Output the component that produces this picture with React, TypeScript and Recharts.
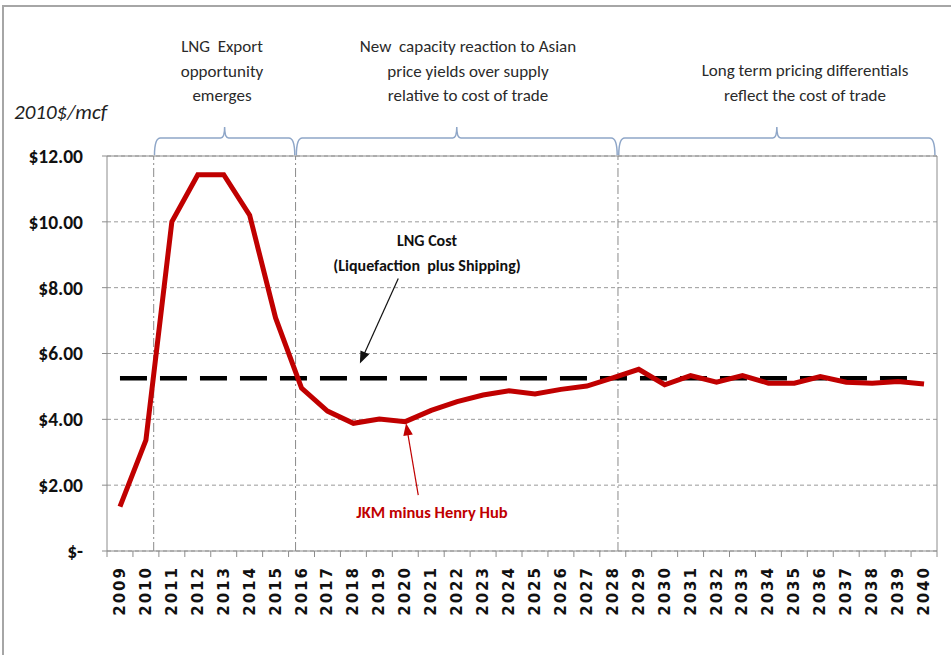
import React from 'react';
import { CartesianGrid, Line, LineChart, ReferenceArea, ReferenceLine, XAxis, YAxis } from 'recharts';

const YEARS = [
  2009, 2010, 2011, 2012, 2013, 2014, 2015, 2016, 2017, 2018, 2019, 2020, 2021, 2022, 2023, 2024,
  2025, 2026, 2027, 2028, 2029, 2030, 2031, 2032, 2033, 2034, 2035, 2036, 2037, 2038, 2039, 2040,
];
// JKM minus Henry Hub spread, 2010$/mcf
const JKM_MINUS_HH = [
  1.35, 3.37, 10.0, 11.43, 11.43, 10.2, 7.08, 4.95, 4.25, 3.88, 4.01, 3.93, 4.27, 4.54, 4.74, 4.87,
  4.77, 4.91, 5.01, 5.26, 5.52, 5.05, 5.33, 5.13, 5.33, 5.1, 5.1, 5.3, 5.13, 5.1, 5.15, 5.07,
];
const LNG_COST = 5.25;
const Y_TICKS = [0, 2, 4, 6, 8, 10, 12];
const PERIOD_BREAKS = [2010.3, 2015.77, 2028.2, 2040.45];

const data = YEARS.map((year, i) => ({ year, spread: JKM_MINUS_HH[i] }));

const FONT = "Carlito, 'Liberation Sans Narrow', Lato, sans-serif";
const GRAY = '#8c8c8c';
const RED = '#c00000';
const BRACE = '#8ea6c8';

// year label plus tick marks on the category boundaries either side
const YearTick = (props: any) => {
  const { x, y, payload, index, width, visibleTicksCount } = props;
  const half = width / visibleTicksCount / 2;
  const axisY = y - 15;
  const last = index === visibleTicksCount - 1;
  return (
    <g>
      <line x1={x - half} x2={x - half} y1={axisY} y2={axisY + 6} stroke={GRAY} />
      {last && <line x1={x + half} x2={x + half} y1={axisY} y2={axisY + 6} stroke={GRAY} />}
      <text
        x={x}
        y={y}
        transform={`rotate(-90 ${x} ${y})`}
        textAnchor="end"
        dominantBaseline="central"
        fontFamily="'DejaVu Sans', sans-serif"
        fontWeight="bold"
        fontSize={15}
        letterSpacing={2}
        fill="#111"
      >
        {payload.value}
      </text>
    </g>
  );
};

const Brace = (props: any) => {
  const { x, y, width, height } = props;
  const mid = x + width / 2;
  const r = 6;
  const d = [
    `M ${x} ${y + height}`,
    `Q ${x} ${y} ${x + r} ${y}`,
    `L ${mid - 4} ${y}`,
    `Q ${mid} ${y} ${mid} ${y - 11}`,
    `Q ${mid} ${y} ${mid + 4} ${y}`,
    `L ${x + width - r} ${y}`,
    `Q ${x + width} ${y} ${x + width} ${y + height}`,
  ].join(' ');
  return <path d={d} fill="none" stroke={BRACE} strokeWidth={1.5} />;
};

const arrowShape = (color: string, width: number) => (props: any) => {
  const { x1, y1, x2, y2 } = props;
  const ang = Math.atan2(y2 - y1, x2 - x1);
  const len = 13;
  const spread = 0.38;
  const p1 = [x2 - len * Math.cos(ang - spread), y2 - len * Math.sin(ang - spread)];
  const p2 = [x2 - len * Math.cos(ang + spread), y2 - len * Math.sin(ang + spread)];
  const bx = x2 - len * 0.8 * Math.cos(ang);
  const by = y2 - len * 0.8 * Math.sin(ang);
  return (
    <g>
      <line x1={x1} y1={y1} x2={bx} y2={by} stroke={color} strokeWidth={width} />
      <polygon points={`${x2},${y2} ${p1[0]},${p1[1]} ${p2[0]},${p2[1]}`} fill={color} />
    </g>
  );
};

const note = (left: number, top: number, w: number, extra: React.CSSProperties = {}): React.CSSProperties => ({
  position: 'absolute',
  left: left - w / 2,
  top,
  width: w,
  textAlign: 'center',
  fontFamily: FONT,
  fontSize: 17,
  lineHeight: '24.5px',
  color: '#2a2a2a',
  ...extra,
});

export default function App() {
  return (
    <div
      style={{
        position: 'absolute',
        left: 0,
        top: 0,
        width: 951,
        height: 655,
        background: '#fff',
        overflow: 'hidden',
      }}
    >
      {/* outer frame */}
      <div style={{ position: 'absolute', left: 2, top: 5, width: 960, height: 700, borderTop: '2px solid #a6a6a6', borderLeft: '2px solid #a6a6a6' }} />

      <LineChart width={951} height={655} data={data} margin={{ top: 156, right: 14, bottom: 14, left: 7 }}>
        <CartesianGrid vertical={false} stroke="#9a9a9a" strokeDasharray="4 3" yAxisId="v" xAxisId="yr" />
        <XAxis
          xAxisId="yr"
          type="number"
          dataKey="year"
          domain={[2008.5, 2040.5]}
          ticks={YEARS}
          interval={0}
          tick={<YearTick />}
          tickLine={false}
          tickSize={0}
          tickMargin={15}
          axisLine={{ stroke: GRAY }}
          height={90}
        />
        <YAxis
          yAxisId="v"
          domain={[0, 12]}
          ticks={Y_TICKS}
          interval={0}
          width={100}
          tickSize={5}
          tickMargin={19}
          tickLine={{ stroke: GRAY }}
          axisLine={{ stroke: GRAY }}
          tick={{ fontFamily: FONT, fontWeight: 'bold', fontSize: 19.5, fill: '#111' }}
          tickFormatter={(v: number) => (v === 0 ? '$-' : `$${v.toFixed(2)}`)}
        />

        {/* plot frame: top and right edges */}
        <ReferenceLine xAxisId="yr" yAxisId="v" y={12} stroke={GRAY} />
        <ReferenceLine xAxisId="yr" yAxisId="v" x={2040.5} stroke={GRAY} />

        {/* period separators */}
        {PERIOD_BREAKS.slice(0, 3).map((b) => (
          <ReferenceLine key={b} xAxisId="yr" yAxisId="v" x={b} stroke="#8a8a8a" strokeDasharray="9 3 2 3" />
        ))}

        {/* braces over each period */}
        {PERIOD_BREAKS.slice(0, 3).map((b, i) => (
          <ReferenceArea
            key={`brace-${b}`}
            xAxisId="yr"
            yAxisId="v"
            x1={b + 0.03}
            x2={PERIOD_BREAKS[i + 1] - 0.03}
            y1={12.02}
            y2={12.55}
            ifOverflow="visible"
            shape={<Brace />}
          />
        ))}

        {/* LNG cost line */}
        <ReferenceLine
          xAxisId="yr"
          yAxisId="v"
          segment={[{ x: 2009, y: LNG_COST }, { x: 2039.5, y: LNG_COST }]}
          stroke="#000"
          strokeWidth={4.5}
          strokeDasharray="27 13"
        />

        <Line
          xAxisId="yr"
          yAxisId="v"
          type="linear"
          dataKey="spread"
          stroke={RED}
          strokeWidth={5}
          dot={false}
          isAnimationActive={false}
        />

        {/* annotation arrows */}
        <ReferenceLine
          xAxisId="yr"
          yAxisId="v"
          segment={[{ x: 2019.73, y: 8.28 }, { x: 2018.25, y: 5.7 }]}
          shape={arrowShape('#111', 1.2)}
        />
        <ReferenceLine
          xAxisId="yr"
          yAxisId="v"
          segment={[{ x: 2020.5, y: 1.7 }, { x: 2020.03, y: 3.88 }]}
          shape={arrowShape(RED, 1.2)}
        />
      </LineChart>

      <div style={note(222, 35, 160)}>
        LNG&nbsp; Export
        <br />
        opportunity
        <br />
        emerges
      </div>
      <div style={note(468, 35, 300)}>
        New&nbsp; capacity reaction to Asian
        <br />
        price yields over supply
        <br />
        relative to cost of trade
      </div>
      <div style={note(805, 59, 300)}>
        Long term pricing differentials
        <br />
        reflect the cost of trade
      </div>
      <div style={{ position: 'absolute', left: 14, top: 99, fontFamily: FONT, fontStyle: 'italic', fontSize: 21, color: '#222' }}>
        2010$/mcf
      </div>
      <div style={note(427, 229, 260, { fontSize: 16, fontWeight: 600, color: '#111' })}>
        LNG Cost
        <br />
        (Liquefaction&nbsp; plus Shipping)
      </div>
      <div style={note(432, 500, 240, { fontSize: 16.5, fontWeight: 'bold', color: RED })}>JKM minus Henry Hub</div>
    </div>
  );
}
